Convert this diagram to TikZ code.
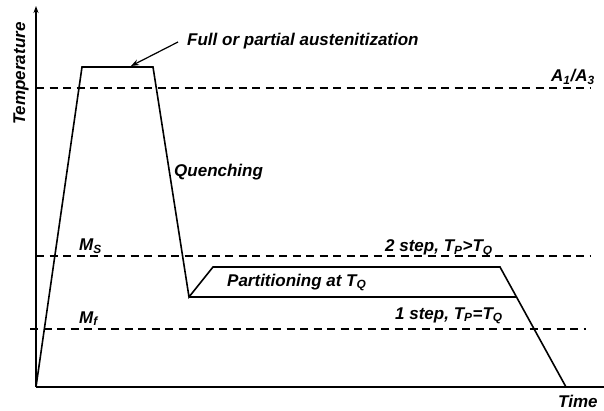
\documentclass[tikz,border=0pt]{standalone}
\usepackage{fontspec}
\setmainfont{Liberation Sans}
\usetikzlibrary{arrows.meta}
\begin{document}
\begin{tikzpicture}[x=1pt,y=-1pt,
  lbl/.style={font=\bfseries\itshape\fontsize{17}{20}\selectfont, inner sep=0pt, anchor=base west},
  curve/.style={line width=1.6pt, line join=miter},
  axis/.style={line width=1.4pt},
  level/.style={line width=1.3pt, dash pattern=on 8pt off 5.5pt}]
\useasboundingbox (0,0) rectangle (604,411);

% axes
\coordinate (o) at (36,387);
\coordinate (ytop) at (36,6);
\coordinate (xend) at (604,387);
\draw[axis,-{Stealth[length=7pt,width=5pt]}] (o) -- (ytop);
\draw[axis] (o) -- (xend);

% critical temperature levels
\coordinate (a1) at (36,88);   \coordinate (a2) at (590,88);
\coordinate (ms1) at (36,256); \coordinate (ms2) at (590,256);
\coordinate (mf1) at (30,329); \coordinate (mf2) at (586,329);
\draw[level] (a1) -- (a2);
\draw[level] (ms1) -- (ms2);
\draw[level] (mf1) -- (mf2);

% heat treatment cycle
\coordinate (h1) at (82,67);
\coordinate (h2) at (153,67);
\coordinate (q) at (189,297);
\coordinate (p1) at (213,267);
\coordinate (p2) at (500,267);
\coordinate (s1) at (517,297);
\coordinate (e) at (566,387);
\draw[curve] (o) -- (h1) -- (h2) -- (q) -- (p1) -- (p2) -- (e);
\draw[curve] (q) -- (s1);

% labels
\node[lbl, rotate=90] (temp) at (25,125) {Temperature};
\node[lbl] (time) at (558,407) {Time};
\node[lbl] (aus) at (187,46) {Full or partial austenitization};
\coordinate (ausend) at (131,66);
\draw[line width=1.2pt,-{Stealth[length=8pt,width=6pt]}] (178,42) -- (ausend);
\node[lbl] (a13) at (551,82) {A\textsubscript{1}/A\textsubscript{3}};
\node[lbl] (quench) at (174,177) {Quenching};
\node[lbl] (ms) at (79,251) {M\textsubscript{S}};
\node[lbl] (mf) at (79,323) {M\textsubscript{f}};
\node[lbl] (two) at (385,252) {2 step, T\textsubscript{P}>T\textsubscript{Q}};
\node[lbl] (part) at (227,286) {Partitioning at T\textsubscript{Q}};
\node[lbl] (one) at (395,319) {1 step, T\textsubscript{P}=T\textsubscript{Q}};
\end{tikzpicture}
\end{document}
